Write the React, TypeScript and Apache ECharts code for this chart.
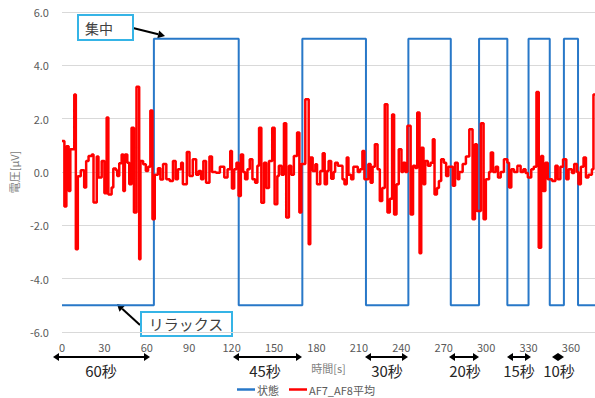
import React, { useEffect, useRef } from "react";
import * as echarts from "echarts";

const stateName = "状態";
const eegName = "AF7_AF8平均";
const xAxisName = "時間[s]";
const yAxisName = "電圧[μV]";
const xMin = 0;
const xMax = 377;
const xInterval = 30;
const yMin = -6;
const yMax = 6;
const yInterval = 2;

const stateTimes = [0, 65, 125, 170, 215, 245, 275, 295, 315, 330, 345, 355, 365, 377];
const stateValues = [-5, 5, -5, 5, -5, 5, -5, 5, -5, 5, -5, 5, -5, -5];

const eegTimes = [
  0, 1.7, 3.1, 4.7, 5.9, 8.7, 9.8, 11.2, 13.3, 15.7, 17.1, 18.8, 21.1, 22.3, 24.6, 25.8, 28.1, 30, 31.6, 32.8,
  35.1, 36.3, 38.2, 39.1, 40.5, 42.2, 43.4, 44.5, 46.2, 47.6, 49.2, 50.9, 52.7, 54.6, 55.5, 57.4, 59.3, 60.9, 62.5, 64,
  65.6, 67.9, 69.6, 71.5, 73.8, 76.2, 78.5, 80.4, 82, 84.3, 85.5, 88.3, 90.2, 92.5, 94.9, 96.7, 98.4, 100, 101.9, 104.3,
  106.1, 108.9, 111.7, 114.8, 117.1, 119, 120.2, 121.8, 123.4, 124.9, 126.5, 128.1, 129.5, 131.2, 132.8, 134.7, 136.6, 138.2, 139.4, 141,
  142.9, 144.5, 146.4, 148.7, 150.4, 152.3, 153.4, 155.3, 157, 158.6, 160.5, 162.1, 164, 166.3, 167.9, 169.3, 172.1, 174.5, 175.6, 177.3,
  179.2, 180.4, 182.7, 184.4, 185.8, 187.4, 188.6, 190.4, 192.1, 193.2, 195.1, 198.4, 199.8, 201.4, 202.6, 204.5, 206.1, 209.2, 210.8, 212.5,
  213.9, 216.7, 218.3, 219.7, 221.3, 223.2, 224.8, 226.5, 228.3, 230.2, 231.9, 233.5, 234.9, 236.6, 238.2, 240.1, 241.3, 242.9, 244.3, 246.6,
  248.3, 249.9, 251.3, 252.9, 254.1, 255.7, 256.9, 258.8, 260.7, 262.3, 263.5, 265.2, 266.6, 268.2, 270.1, 271.7, 273.3, 276.4, 278, 279.9,
  281, 283.4, 285.7, 288.1, 290.4, 292.1, 293.5, 296.3, 298.2, 299.8, 302.1, 303.3, 304.9, 306.8, 308.4, 310.3, 312.6, 315, 316.2, 317.8,
  319.7, 322.1, 324.4, 326.3, 327.9, 329.5, 331.9, 333.7, 335.6, 337.2, 338.9, 340.3, 341.9, 343.6, 346.7, 349, 350.6, 352.5, 354.4, 356.7,
  358.3, 360.7, 362.3, 364.2, 365.3, 367, 368.9, 370.6, 372.4, 374.8, 375.9, 377,
];
const eegValues = [
  1.16, -1.29, 0.97, -0.71, 0.85, 2.91, -2.9, -0.16, 0.07, -0.58, 0.41, 0.6, 0.66, -1.14, 0.58, -0.21, 0.41, -0.8, 2.04, -0.84,
  -0.58, 0.13, 0.07, -0.15, 0.33, 0.66, -0.71, 0.66, 0.35, -0.46, 1.66, -1.52, 3.2, -3.27, 0.41, 0.29, 0.04, 0.2, 2.31, -1.77,
  -0.1, 0.14, -0.28, 0.3, -0.27, -0.34, 0.41, -0.27, 0.1, 0.35, -0.46, 0.75, -0.15, 0.48, -0.1, 0.04, -0.27, 0.41, -0.4, 0.58,
  0, -0.03, 0.2, -0.21, 0.1, 0.79, -0.62, 0.1, 0.35, -0.9, 0.66, 0, -0.27, 0.1, 0.48, -0.27, -0.4, 0.23, 1.66, -1.15,
  0.35, -0.6, 0.41, 1.66, -1.21, -0.15, 0.23, -0.1, 1.83, -1.71, 0.23, -0.1, 0.6, 1.48, -1.52, 0.3, 2.73, -2.71, 0.54, 0.04,
  0.29, -0.46, 0.04, 0.7, -0.46, 0.04, 0.41, -0.25, 0, 0.35, 0.23, -0.27, -0.46, 0.54, -0.1, -0.27, 0.2, 0, 0.1, 0.79,
  -0.27, 0.3, -0.4, 0.2, 1.04, 0.1, -1.09, -0.6, 2.54, -1.52, -1.0, 2.16, -1.59, -0.46, 0.85, 0, 0.35, 0, 1.73, -1.59,
  0.23, 0.15, 2.23, -3.05, 0.91, -0.46, 0.41, 0.23, 0.35, 1.23, -0.84, -0.6, -0.34, 0.48, 0.35, -0.15, 0.2, -0.52, 0.35, -0.27,
  0, 0.3, 0.58, 1.6, -1.77, 1.04, -1.46, 1.83, -1.77, -0.27, 0, 0.73, 0, 0.2, -0.21, 0, 0.48, 0.35, -0.58, 0.1,
  0, 0.23, 0, 0.1, -0.04, -0.21, 0.1, 0.2, 3.0, -2.84, 0.6, -0.71, 0.35, -0.27, -0.34, 0.23, -0.27, 0.2, 0.48, -0.27,
  0.1, -0.04, 0.3, 0, -0.46, 0.2, 0.54, -0.21, -0.1, 0.1, 2.91, 2.91,
];

const focusLabel = "集中";
const relaxLabel = "リラックス";
const durationLabels = ["60秒", "45秒", "30秒", "20秒", "15秒", "10秒"];

const FONT = '"Noto Sans CJK JP", "Noto Sans", sans-serif';

function head(tx: number, ty: number, fx: number, fy: number, len = 7, half = 4) {
  const dx = tx - fx;
  const dy = ty - fy;
  const L = Math.hypot(dx, dy);
  const ux = dx / L;
  const uy = dy / L;
  const bx = tx - ux * len;
  const by = ty - uy * len;
  const px = -uy * half;
  const py = ux * half;
  return {
    base: [bx, by],
    poly: {
      type: "polygon",
      shape: { points: [[tx, ty], [bx + px, by + py], [bx - px, by - py]] },
      style: { fill: "#000" },
      silent: true,
    },
  };
}

function singleArrow(fx: number, fy: number, tx: number, ty: number) {
  const h = head(tx, ty, fx, fy);
  return [
    {
      type: "line",
      shape: { x1: fx, y1: fy, x2: h.base[0], y2: h.base[1] },
      style: { stroke: "#000", lineWidth: 2 },
      silent: true,
    },
    h.poly,
  ];
}

function doubleArrow(x1: number, x2: number, y: number) {
  const h1 = head(x1, y, x2, y, 6, 4);
  const h2 = head(x2, y, x1, y, 6, 4);
  return [
    {
      type: "line",
      shape: { x1: h1.base[0], y1: y, x2: h2.base[0], y2: y },
      style: { stroke: "#000", lineWidth: 2 },
      silent: true,
    },
    h1.poly,
    h2.poly,
  ];
}

export default function App() {
  const ref = useRef<HTMLDivElement>(null);

  useEffect(() => {
    document.body.style.margin = "0";
    if (!ref.current) return;
    const chart = echarts.init(ref.current, null, { renderer: "svg" });

    const stateData = stateTimes.map((t, i) => [t, stateValues[i]]);
    const eegData = eegTimes.map((t, i) => [t, eegValues[i]]);

    const durArrows: [number, number, number][] = [
      [53, 150, 101],
      [233, 302, 265],
      [365, 408, 387],
      [449, 479, 465],
      [507, 531, 519],
      [552, 564, 559],
    ];

    const graphics: any[] = [];
    durArrows.forEach(([a, b, tx], i) => {
      graphics.push(...doubleArrow(a, b, 357));
      graphics.push({
        type: "text",
        x: tx,
        y: 370,
        silent: true,
        style: {
          text: durationLabels[i],
          fill: "#262626",
          fontSize: 15,
          fontFamily: FONT,
          textAlign: "center",
          textVerticalAlign: "middle",
          verticalAlign: "middle",
        },
      });
    });

    graphics.push(...singleArrow(133, 28, 165, 36));
    graphics.push(...singleArrow(140, 325, 117, 304));
    graphics.push({
      type: "rect",
      shape: { x: 78, y: 15, width: 55, height: 25 },
      style: { fill: "#fff", stroke: "#35b4e6", lineWidth: 2 },
      silent: true,
    });
    graphics.push({
      type: "text",
      x: 85,
      y: 27.5,
      silent: true,
      style: {
        text: focusLabel,
        fill: "#404040",
        fontSize: 14,
        fontFamily: FONT,
        textAlign: "left",
        textVerticalAlign: "middle",
        verticalAlign: "middle",
      },
    });
    graphics.push({
      type: "rect",
      shape: { x: 141, y: 312, width: 91, height: 24 },
      style: { fill: "#fff", stroke: "#35b4e6", lineWidth: 2 },
      silent: true,
    });
    graphics.push({
      type: "text",
      x: 186,
      y: 323.5,
      silent: true,
      style: {
        text: relaxLabel,
        fill: "#404040",
        fontSize: 15,
        fontFamily: FONT,
        textAlign: "center",
        textVerticalAlign: "middle",
        verticalAlign: "middle",
      },
    });

    chart.setOption({
      animation: false,
      textStyle: { fontFamily: FONT },
      grid: { left: 58, right: 0, top: 12, bottom: 66 },
      legend: {
        data: [
          { name: stateName, icon: "rect" },
          { name: eegName, icon: "rect" },
        ],
        left: 237,
        top: 384,
        padding: 0,
        itemWidth: 18,
        itemHeight: 2.5,
        itemGap: 10,
        textStyle: { color: "#595959", fontSize: 11, fontFamily: FONT, padding: [0, 0, 0, -3] },
      },
      xAxis: {
        type: "value",
        min: xMin,
        max: xMax,
        interval: xInterval,
        name: xAxisName,
        nameLocation: "middle",
        nameGap: 30,
        nameTextStyle: { color: "#808080", fontSize: 11, fontFamily: FONT },
        axisLine: { show: false },
        axisTick: { show: false },
        splitLine: { show: false },
        axisLabel: { color: "#595959", fontSize: 11, margin: 9, showMaxLabel: false },
      },
      yAxis: {
        type: "value",
        min: yMin,
        max: yMax,
        interval: yInterval,
        name: yAxisName,
        nameLocation: "middle",
        nameGap: 40,
        nameRotate: 90,
        nameTextStyle: { color: "#808080", fontSize: 11, fontFamily: FONT },
        axisLine: { show: false },
        axisTick: { show: false },
        splitLine: { lineStyle: { color: "#d9d9d9", width: 1 } },
        axisLabel: {
          color: "#595959",
          fontSize: 11,
          margin: 13,
          formatter: (v: number) => v.toFixed(1),
        },
      },
      series: [
        {
          name: stateName,
          type: "line",
          step: "end",
          data: stateData,
          symbol: "none",
          lineStyle: { color: "#2878c8", width: 2 },
          itemStyle: { color: "#2878c8" },
          z: 2,
        },
        {
          name: eegName,
          type: "line",
          step: "end",
          data: eegData,
          symbol: "none",
          lineStyle: { color: "#ff0000", width: 2.5 },
          itemStyle: { color: "#ff0000" },
          z: 3,
        },
      ],
      graphic: graphics,
    });

    return () => chart.dispose();
  }, []);

  return <div ref={ref} style={{ width: 595, height: 398 }} />;
}
